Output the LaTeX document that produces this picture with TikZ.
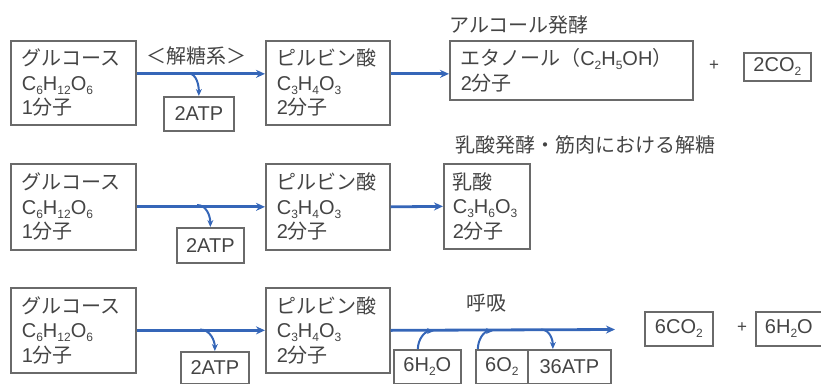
\documentclass[tikz,border=0pt]{standalone}
\usepackage{fontspec}
\setmainfont{Liberation Sans}
\newfontfamily\jpfont{Noto Sans CJK JP}
\usetikzlibrary{arrows.meta}
\definecolor{txt}{HTML}{444444}
\definecolor{frame}{HTML}{6A6A6A}
\definecolor{flow}{HTML}{3566B8}
\newcommand\J[1]{{\jpfont #1}}
\newcommand\sbs[1]{\raisebox{-4pt}{\fontsize{12}{12}\selectfont #1}}
\begin{document}
\begin{tikzpicture}[x=1pt,y=-1pt,
  font=\fontsize{20}{24.5}\selectfont, text=txt,
  bigbox/.style={draw=frame, line width=1.7pt, align=left, inner xsep=11pt, inner ysep=0pt, anchor=north west},
  smallbox/.style={draw=frame, line width=1.7pt, inner sep=0pt, anchor=north west, align=center},
  lbl/.style={inner sep=0pt},
  flowarrow/.style={draw=flow, line width=2.8pt, -{Stealth[length=9pt,width=8pt]}},
  branch/.style={draw=flow, line width=2pt, -{Stealth[length=7pt,width=6pt]}}]
\useasboundingbox (0,0) rectangle (821,383);

% ---------- row 1 ----------
\node[bigbox, text width=103pt, minimum height=84pt] (g1) at (10,40)
  {\J{グルコース}\\C\sbs{6}H\sbs{12}O\sbs{6}\\1\J{分子}};
\node[bigbox, text width=102pt, minimum height=84pt] (p1) at (265,40)
  {\J{ピルビン酸}\\C\sbs{3}H\sbs{4}O\sbs{3}\\2\J{分子}};
\node[bigbox, text width=221pt, minimum height=59pt] (e1) at (449,40)
  {\J{エタノール（}C\sbs{2}H\sbs{5}OH\J{）}\\2\J{分子}};
\node[smallbox, minimum width=70pt, minimum height=34pt] (atp1) at (163,96) {2ATP};
\node[smallbox, minimum width=67pt, minimum height=28pt] (co2a) at (743,52) {2CO\sbs{2}};
\node[lbl] (lab0) at (196,56) {\J{＜解糖系＞}};
\node[lbl, anchor=west] (lab1) at (449,25) {\J{アルコール発酵}};
\node[lbl, font=\fontsize{17}{17}\selectfont] (plus1) at (714,66) {+};

\coordinate (r1) at ([yshift=9pt]p1.east);
\draw[flowarrow] ([yshift=9pt]g1.east) -- ([yshift=9pt]p1.west);
\draw[flowarrow] (r1) -- (r1 -| e1.west);
\coordinate (s1) at (187,73);
\draw[branch] (s1) to[out=0,in=90] (atp1.north);

% ---------- row 2 ----------
\node[bigbox, text width=103pt, minimum height=86pt] (g2) at (10,163)
  {\J{グルコース}\\C\sbs{6}H\sbs{12}O\sbs{6}\\1\J{分子}};
\node[bigbox, text width=102pt, minimum height=86pt] (p2) at (265,163)
  {\J{ピルビン酸}\\C\sbs{3}H\sbs{4}O\sbs{3}\\2\J{分子}};
\node[bigbox, inner xsep=9pt, text width=68pt, minimum height=85pt] (l2) at (443,163)
  {\J{乳酸}\\C\sbs{3}H\sbs{6}O\sbs{3}\\2\J{分子}};
\node[smallbox, minimum width=67pt, minimum height=35pt] (atp2) at (176,227) {2ATP};
\node[lbl, anchor=west] (lab2) at (455,145) {\J{乳酸発酵・筋肉における解糖}};

\draw[flowarrow] (g2.east) -- (p2.west);
\draw[flowarrow] (p2.east) -- (l2.west);
\coordinate (s2) at (197,205);
\draw[branch] (s2) to[out=0,in=90] (atp2.north);

% ---------- row 3 ----------
\node[bigbox, text width=103pt, minimum height=85pt] (g3) at (10,287)
  {\J{グルコース}\\C\sbs{6}H\sbs{12}O\sbs{6}\\1\J{分子}};
\node[bigbox, text width=102pt, minimum height=85pt] (p3) at (265,287)
  {\J{ピルビン酸}\\C\sbs{3}H\sbs{4}O\sbs{3}\\2\J{分子}};
\node[smallbox, minimum width=68pt, minimum height=32pt] (atp3) at (180,351) {2ATP};
\node[smallbox, minimum width=67pt, minimum height=34pt] (w1) at (393,349) {6H\sbs{2}O};
\node[smallbox, minimum width=52pt, minimum height=34pt] (o1) at (475,349) {6O\sbs{2}};
\node[smallbox, minimum width=83pt, minimum height=34pt] (a36) at (527,349) {36ATP};
\node[smallbox, minimum width=68pt, minimum height=34pt] (co2b) at (644,311) {6CO\sbs{2}};
\node[smallbox, minimum width=70pt, minimum height=34pt] (h2ob) at (755,311) {6H\sbs{2}O\hspace{4pt}};
\node[lbl] (lab3) at (486,303) {\J{呼吸}};
\node[lbl, font=\fontsize{17}{17}\selectfont] (plus2) at (742,328) {+};

\coordinate (t3) at (615,329.5);
\draw[flowarrow] (g3.east) -- (p3.west);
\draw[flowarrow] (p3.east) -- (t3);
\coordinate (s3) at (200,329.5);
\draw[branch] (s3) to[out=0,in=90] (atp3.north);
\coordinate (bw) at (434,331);
\coordinate (bo) at (493,331);
\coordinate (ba) at (541,329.5);
\draw[branch] ([xshift=-9.5pt]w1.north) to[out=90,in=180] (bw);
\draw[branch] ([xshift=-24pt]o1.north) to[out=90,in=180] (bo);
\draw[branch] (ba) to[out=0,in=90] ([xshift=-16.5pt]a36.north);
\end{tikzpicture}
\end{document}
